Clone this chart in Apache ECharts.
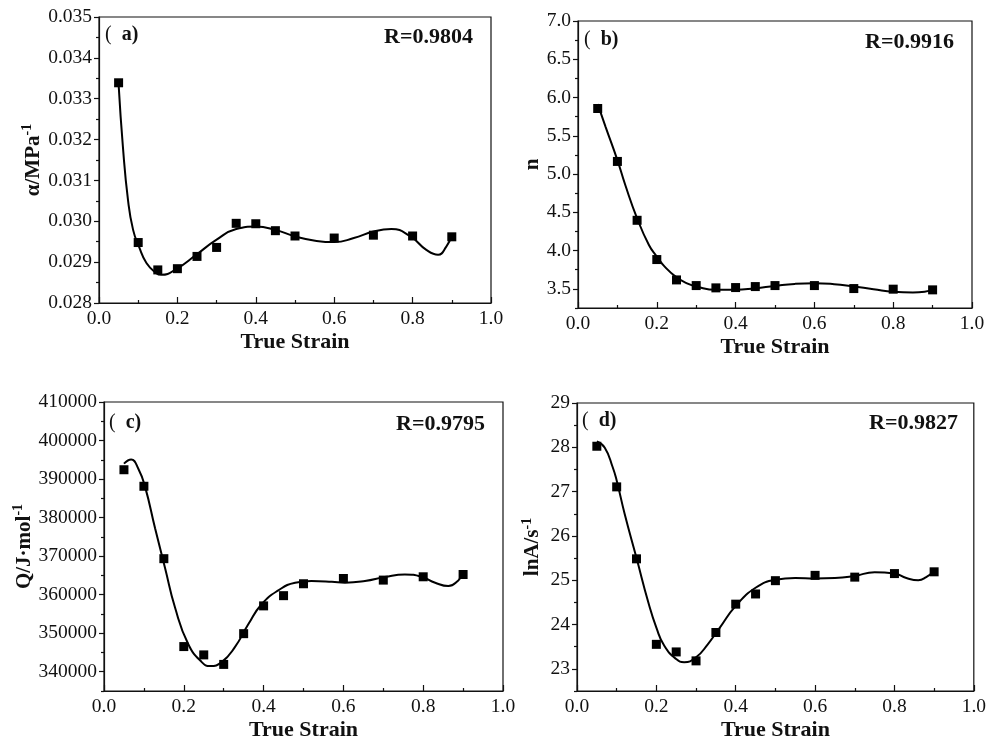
<!DOCTYPE html>
<html>
<head>
<meta charset="utf-8">
<script src="https://cdn.jsdelivr.net/npm/echarts@6/dist/echarts.min.js"></script>
<style>
  html, body { margin: 0; padding: 0; background: #fff; }
  #chart { width: 989px; height: 742px; }
</style>
</head>
<body>
<div id="chart"></div>
<script>
// Measured points: true strain vs. constitutive parameters
const strain = [0.05, 0.1, 0.15, 0.2, 0.25, 0.3, 0.35, 0.4, 0.45, 0.5, 0.6, 0.7, 0.8, 0.9];
const alphaVals = [0.03339, 0.02948, 0.02881, 0.02884, 0.02914, 0.02936, 0.02995, 0.02994, 0.02977, 0.02964, 0.02959, 0.02966, 0.02964, 0.02962];
const nVals = [5.857, 5.165, 4.396, 3.883, 3.617, 3.543, 3.513, 3.517, 3.530, 3.543, 3.543, 3.504, 3.496, 3.487];
const qVals = [392420, 388130, 369340, 346530, 344370, 341900, 349880, 357090, 359740, 362830, 364200, 363780, 364640, 365230];
const lnAVals = [28.024, 27.107, 25.483, 23.553, 23.382, 23.180, 23.820, 24.460, 24.690, 24.990, 25.110, 25.070, 25.150, 25.190];

// Polynomial fit curves, sampled along strain
const alphaFitX = [0.05, 0.061, 0.074, 0.087, 0.102, 0.121, 0.146, 0.159, 0.197, 0.248, 0.30, 0.35, 0.40, 0.45, 0.50, 0.555, 0.60, 0.65, 0.70, 0.746, 0.793, 0.835, 0.865, 0.886, 0.899];
const alphaFitY = [0.03335, 0.03182, 0.03052, 0.02979, 0.02938, 0.02898, 0.02873, 0.02869, 0.02883, 0.02918, 0.02955, 0.02981, 0.02987, 0.02979, 0.02963, 0.02952, 0.02949, 0.02959, 0.02975, 0.02981, 0.02964, 0.02930, 0.02918, 0.02938, 0.02963];
const nFitX = [0.05, 0.07, 0.1, 0.12, 0.15, 0.18, 0.2, 0.22, 0.25, 0.28, 0.3, 0.35, 0.4, 0.45, 0.5, 0.55, 0.6, 0.65, 0.7, 0.75, 0.8, 0.85, 0.88, 0.9];
const nFitY = [5.913, 5.617, 5.183, 4.857, 4.422, 4.074, 3.922, 3.791, 3.652, 3.565, 3.530, 3.487, 3.487, 3.509, 3.539, 3.565, 3.574, 3.561, 3.530, 3.496, 3.461, 3.452, 3.461, 3.496];
const qFitX = [0.05, 0.068, 0.086, 0.103, 0.128, 0.153, 0.178, 0.211, 0.245, 0.266, 0.295, 0.328, 0.362, 0.395, 0.437, 0.479, 0.52, 0.571, 0.604, 0.654, 0.704, 0.754, 0.796, 0.83, 0.863, 0.888, 0.898];
const qFitY = [394000, 395070, 392680, 387970, 377240, 366950, 356660, 347210, 342500, 341470, 342500, 346370, 352370, 357520, 361120, 363100, 363530, 363350, 363100, 363530, 364560, 365230, 364640, 363100, 362240, 363690, 365230];
const lnAFitX = [0.05, 0.07, 0.09, 0.1, 0.12, 0.15, 0.18, 0.2, 0.22, 0.25, 0.27, 0.3, 0.33, 0.36, 0.4, 0.45, 0.5, 0.55, 0.6, 0.65, 0.7, 0.75, 0.8, 0.83, 0.86, 0.88, 0.9];
const lnAFitY = [28.13, 27.99, 27.55, 27.25, 26.50, 25.50, 24.49, 23.93, 23.52, 23.22, 23.15, 23.26, 23.56, 23.93, 24.42, 24.83, 25.01, 25.05, 25.04, 25.05, 25.10, 25.18, 25.15, 25.05, 25.00, 25.07, 25.21];

// Tick values
const alphaTicks = [0.028, 0.029, 0.030, 0.031, 0.032, 0.033, 0.034, 0.035];
const alphaMinor = [0.0285, 0.0295, 0.0305, 0.0315, 0.0325, 0.0335, 0.0345];
const nTicks = [3.5, 4.0, 4.5, 5.0, 5.5, 6.0, 6.5, 7.0];
const nMinor = [3.25, 3.75, 4.25, 4.75, 5.25, 5.75, 6.25, 6.75];
const qTicks = [340000, 350000, 360000, 370000, 380000, 390000, 400000, 410000];
const qMinor = [335000, 345000, 355000, 365000, 375000, 385000, 395000, 405000];
const lnATicks = [23, 24, 25, 26, 27, 28, 29];
const lnAMinor = [22.5, 23.5, 24.5, 25.5, 26.5, 27.5, 28.5];

const panelTags = ['a', 'b', 'c', 'd'];
const rValues = ['R=0.9804', 'R=0.9916', 'R=0.9795', 'R=0.9827'];

const SERIF = "'Liberation Serif', 'Times New Roman', serif";
const INK = '#111';

const panels = [
  { rect: { left: 99, top: 17, width: 392, height: 286 }, min: 0.028, max: 0.035,
    ticks: alphaTicks, minor: alphaMinor, fmt: v => v.toFixed(3),
    name: '{t|α/MPa}{s|-1}', nameGap: 51, pts: alphaVals, fitX: alphaFitX, fitY: alphaFitY },
  { rect: { left: 578, top: 21, width: 394, height: 287 }, min: 3.25, max: 7.0,
    ticks: nTicks, minor: nMinor, fmt: v => v.toFixed(1),
    name: '{t|n}', nameGap: 35, pts: nVals, fitX: nFitX, fitY: nFitY },
  { rect: { left: 104, top: 402, width: 399, height: 292 }, min: 335000, max: 410000,
    ticks: qTicks, minor: qMinor, fmt: v => String(Math.round(v)),
    name: '{t|Q/J·mol}{s|-1}', nameGap: 66, pts: qVals, fitX: qFitX, fitY: qFitY },
  { rect: { left: 577, top: 403, width: 398, height: 291 }, min: 22.5, max: 29,
    ticks: lnATicks, minor: lnAMinor, fmt: v => String(Math.round(v)),
    name: '{t|lnA/s}{s|-1}', nameGap: 31, pts: lnAVals, fitX: lnAFitX, fitY: lnAFitY }
];

const grid = [], xAxis = [], yAxis = [], series = [], graphic = [];
const axisLineStyle = { color: INK, width: 1.2 };

panels.forEach((p, i) => {
  grid.push(Object.assign({ show: true, borderColor: INK, borderWidth: 1.2, backgroundColor: 'transparent' }, p.rect));

  xAxis.push({
    gridIndex: i, type: 'value', min: 0, max: 1, interval: 0.2,
    name: 'True Strain', nameLocation: 'middle', nameGap: 28,
    nameTextStyle: { fontFamily: SERIF, fontWeight: 'bold', fontSize: 22, color: INK },
    axisLine: { show: true, onZero: false, lineStyle: axisLineStyle },
    axisTick: { show: true, inside: true, length: 6, lineStyle: axisLineStyle },
    minorTick: { show: true, splitNumber: 2, length: 3, lineStyle: axisLineStyle },
    axisLabel: { formatter: v => v.toFixed(1), fontFamily: SERIF, fontSize: 19.5, color: INK, margin: 6 },
    splitLine: { show: false }
  });

  // main y axis: labels and major ticks
  yAxis.push({
    gridIndex: i, type: 'value', min: p.min, max: p.max, position: 'left',
    name: p.name, nameLocation: 'middle', nameGap: p.nameGap, nameRotate: 90,
    nameTextStyle: {
      fontFamily: SERIF, fontWeight: 'bold', fontSize: 21, color: INK,
      rich: {
        t: { fontFamily: SERIF, fontWeight: 'bold', fontSize: 21, color: INK },
        s: { fontFamily: SERIF, fontWeight: 'bold', fontSize: 14, color: INK, verticalAlign: 'top', padding: [0, 0, 12, 0] }
      }
    },
    axisLine: { show: true, onZero: false, lineStyle: axisLineStyle },
    axisTick: { show: true, length: 5, customValues: p.ticks, lineStyle: axisLineStyle },
    axisLabel: { customValues: p.ticks, formatter: p.fmt, fontFamily: SERIF, fontSize: 19.5, color: INK, margin: 7 },
    splitLine: { show: false }
  });
  // companion y axis carrying only the minor ticks
  yAxis.push({
    gridIndex: i, type: 'value', min: p.min, max: p.max, position: 'left',
    axisLine: { show: false, onZero: false },
    axisTick: { show: true, length: 3, customValues: p.minor, lineStyle: axisLineStyle },
    axisLabel: { show: false },
    splitLine: { show: false }
  });

  series.push({
    type: 'line', xAxisIndex: i, yAxisIndex: 2 * i,
    data: p.fitX.map((x, k) => [x, p.fitY[k]]),
    smooth: 0.5, showSymbol: false, silent: true, z: 2,
    lineStyle: { color: '#000', width: 2 }
  });
  series.push({
    type: 'scatter', xAxisIndex: i, yAxisIndex: 2 * i,
    data: strain.map((x, k) => [x, p.pts[k]]),
    symbol: 'rect', symbolSize: 9, z: 3,
    itemStyle: { color: '#000', opacity: 1 }
  });
});

// panel tags and correlation coefficients
const tagPos = [[105, 35], [584, 40], [109, 423], [582, 421]];
const rPos = [[473, 37], [954, 42], [485, 424], [958, 423]];
panelTags.forEach((tag, i) => {
  graphic.push({
    type: 'text', x: tagPos[i][0], y: tagPos[i][1],
    style: {
      text: '{p|(}{l|  ' + tag + ')}',
      textVerticalAlign: 'middle', verticalAlign: 'middle',
      rich: {
        p: { fontFamily: SERIF, fontSize: 20, fill: INK },
        l: { fontFamily: SERIF, fontWeight: 'bold', fontSize: 20, fill: INK }
      }
    }
  });
  graphic.push({
    type: 'text', x: rPos[i][0], y: rPos[i][1],
    style: {
      text: rValues[i], font: 'bold 22px ' + SERIF, fill: INK,
      textAlign: 'right', align: 'right', textVerticalAlign: 'middle', verticalAlign: 'middle'
    }
  });
});

const chart = echarts.init(document.getElementById('chart'), null, { renderer: 'canvas' });
chart.setOption({
  backgroundColor: '#fff',
  animation: false,
  grid, xAxis, yAxis, series, graphic
});
</script>
</body>
</html>
